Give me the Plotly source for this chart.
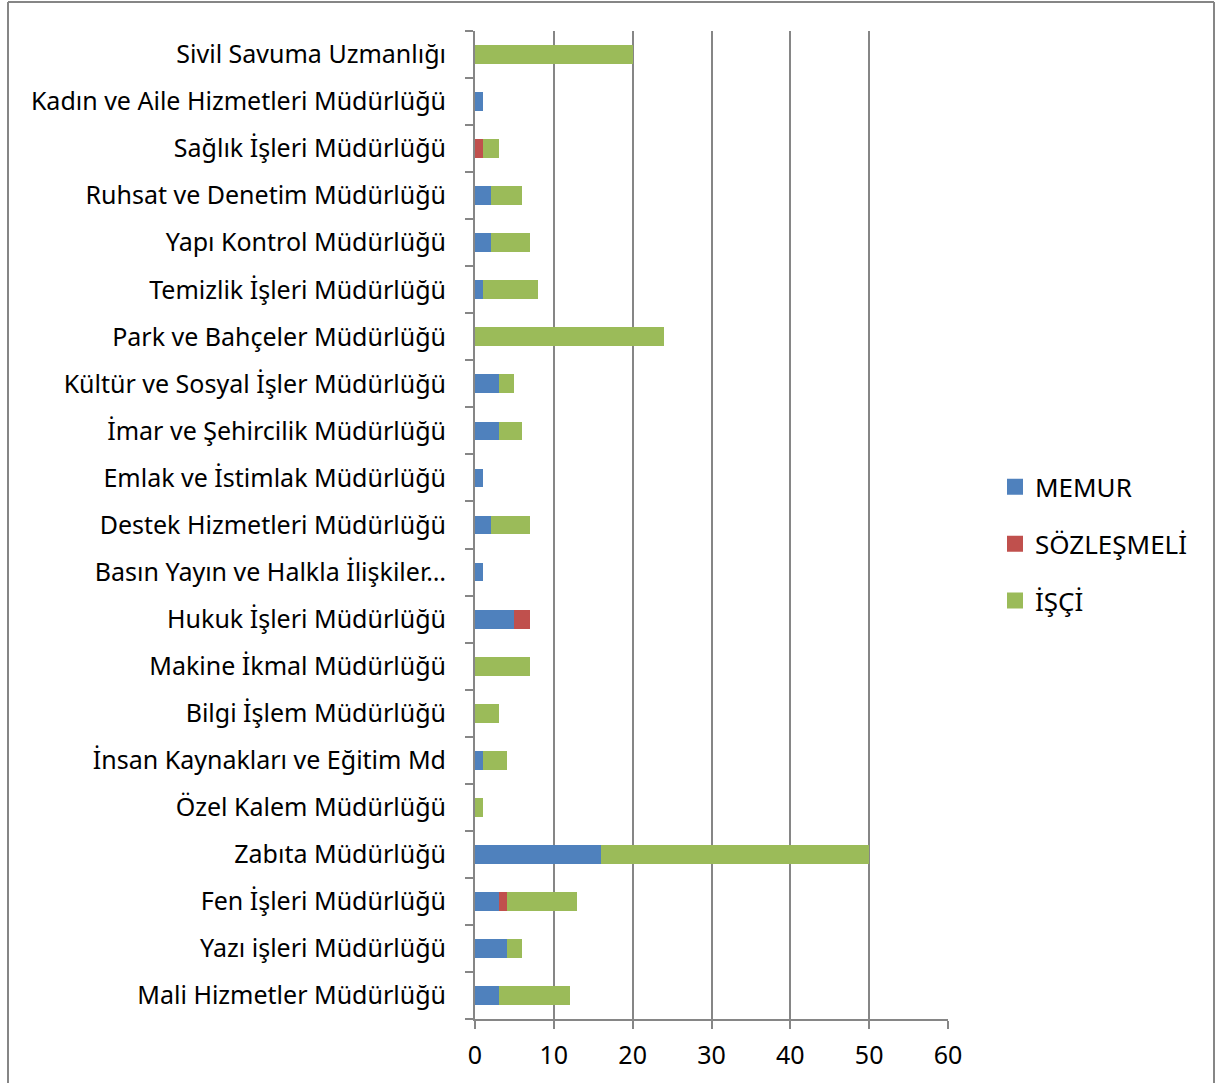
import plotly.graph_objects as go

categories = [
    "Mali Hizmetler Müdürlüğü", "Yazı işleri Müdürlüğü", "Fen İşleri Müdürlüğü",
    "Zabıta Müdürlüğü", "Özel Kalem Müdürlüğü", "İnsan Kaynakları ve Eğitim Md",
    "Bilgi İşlem Müdürlüğü", "Makine İkmal Müdürlüğü", "Hukuk İşleri Müdürlüğü",
    "Basın Yayın ve Halkla İlişkiler…", "Destek Hizmetleri Müdürlüğü",
    "Emlak ve İstimlak Müdürlüğü", "İmar ve Şehircilik Müdürlüğü",
    "Kültür ve Sosyal İşler Müdürlüğü", "Park ve Bahçeler Müdürlüğü",
    "Temizlik İşleri Müdürlüğü", "Yapı Kontrol Müdürlüğü",
    "Ruhsat ve Denetim Müdürlüğü", "Sağlık İşleri Müdürlüğü",
    "Kadın ve Aile Hizmetleri Müdürlüğü", "Sivil Savuma Uzmanlığı",
]
memur =      [3, 4, 3, 16, 0, 1, 0, 0, 5, 1, 2, 1, 3, 3, 0, 1, 2, 2, 0, 1, 0]
sozlesmeli = [0, 0, 1, 0, 0, 0, 0, 0, 2, 0, 0, 0, 0, 0, 0, 0, 0, 0, 1, 0, 0]
isci =       [9, 2, 9, 34, 1, 3, 3, 7, 0, 0, 5, 0, 3, 2, 24, 7, 5, 4, 2, 0, 20]
series_names = ["MEMUR", "SÖZLEŞMELİ", "İŞÇİ"]
colors = ["#4F81BD", "#C0504D", "#9BBB59"]
x_ticks = [0, 10, 20, 30, 40, 50, 60]

FONT = "Noto Sans"
fig = go.Figure()
for name, vals, col in zip(series_names, [memur, sozlesmeli, isci], colors):
    fig.add_trace(go.Bar(
        y=categories, x=vals, name=name, orientation="h",
        marker=dict(color=col, line=dict(width=0)),
        showlegend=False, legendgroup=name,
    ))
# legend entries with larger square swatches
for name, col in zip(series_names, colors):
    fig.add_trace(go.Scatter(
        x=[None], y=[None], mode="markers", name=name, legendgroup=name,
        marker=dict(symbol="square", size=18, color=col),
        showlegend=True,
    ))

fig.update_layout(
    barmode="stack",
    bargap=0.6,
    width=1219, height=1083,
    margin=dict(l=475, r=271, t=31, b=62),
    paper_bgcolor="white", plot_bgcolor="white",
    font=dict(family=FONT, size=25, color="black"),
    showlegend=True,
    legend=dict(
        x=(995 - 475) / 473, y=(1021 - 545) / 990, xanchor="left", yanchor="middle",
        font=dict(family=FONT, size=26, color="black"),
        traceorder="grouped", itemsizing="trace",
        tracegroupgap=20,
    ),
    xaxis=dict(
        range=[0, 60], tickvals=x_ticks, showgrid=True,
        gridcolor="#868686", gridwidth=2,
        showline=True, linecolor="#868686", linewidth=2,
        ticks="outside", ticklen=8, tickcolor="#868686", tickwidth=2,
        zeroline=False, tickfont=dict(size=25), ticklabelstandoff=5,
    ),
    yaxis=dict(
        type="category", categoryorder="array", categoryarray=categories,
        range=[-0.5, len(categories) - 0.5],
        showline=True, linecolor="#868686", linewidth=2,
        ticks="outside", ticklen=8, tickcolor="#868686", tickwidth=2,
        tickson="boundaries", showgrid=False,
        ticklabelstandoff=22, tickfont=dict(size=25),
    ),
    shapes=[
        dict(type="line", xref="paper", yref="paper",
             x0=-467/473, x1=-467/473, y0=-0.2, y1=(1083-2-62)/990,
             line=dict(color="#868686", width=2)),
        dict(type="line", xref="paper", yref="paper",
             x0=(1214-475)/473, x1=(1214-475)/473, y0=-0.2, y1=(1083-2-62)/990,
             line=dict(color="#868686", width=2)),
        dict(type="line", xref="paper", yref="paper",
             x0=-467/473, x1=(1214-475)/473, y0=(1083-2-62)/990, y1=(1083-2-62)/990,
             line=dict(color="#868686", width=2)),
    ],
)

fig.write_html("out.html")
